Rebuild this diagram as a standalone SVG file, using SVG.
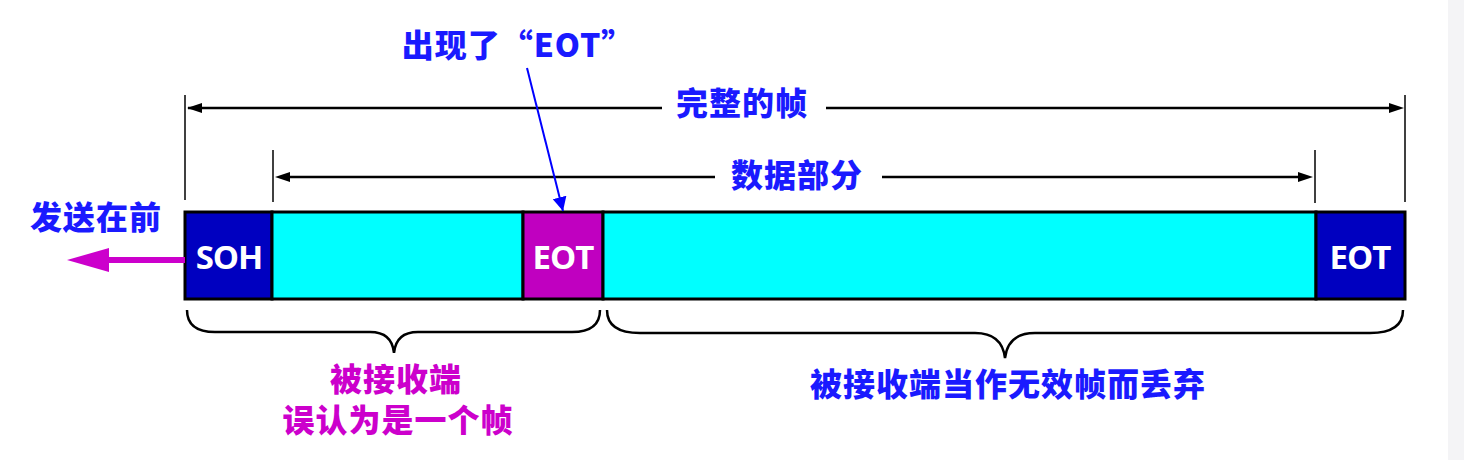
<svg xmlns="http://www.w3.org/2000/svg" width="1464" height="460" viewBox="0 0 1464 460">
<style>
.cjk{font-family:"Noto Sans CJK SC","Liberation Sans",sans-serif;font-weight:900;font-size:32px;letter-spacing:1px;text-anchor:middle}
.blue{fill:#1a1aff}
.mag{fill:#cc00cc}
.lbl{font-family:"Open Sans","Liberation Sans",sans-serif;font-weight:bold;font-size:33px;fill:#ffffff;text-anchor:middle;letter-spacing:-1px}
.dim{stroke:#000;stroke-width:2.5;fill:none}
.tick{stroke:#000;stroke-width:1.5;fill:none}
.box{stroke:#000;stroke-width:3}
</style>
<defs>
<marker id="ahb" viewBox="0 0 10 10" refX="10" refY="5" markerWidth="14" markerHeight="16" markerUnits="userSpaceOnUse" orient="auto">
<path d="M0,0 L10,5 L0,10 Z" fill="#0000ff"/>
</marker>
</defs>
<rect width="1464" height="460" fill="#fff"/>
<rect x="1448" y="0" width="16" height="460" fill="#f4f4f6"/>

<g id="frame">
<rect class="box" x="185" y="212" width="87" height="87" fill="#0000c0"/>
<rect class="box" x="272" y="212" width="251" height="87" fill="#00ffff"/>
<rect class="box" x="523" y="212" width="80" height="87" fill="#c000c0"/>
<rect class="box" x="603" y="212" width="713" height="87" fill="#00ffff"/>
<rect class="box" x="1316" y="212" width="89" height="87" fill="#0000c0"/>
</g>
<g id="soh"><text class="lbl" x="229" y="269">SOH</text></g>
<g id="eot1"><text class="lbl" x="563" y="269">EOT</text></g>
<g id="eot2"><text class="lbl" x="1360" y="269">EOT</text></g>

<g id="connectors">
<line class="tick" x1="185" y1="95" x2="185" y2="200"/>
<line class="tick" x1="1405" y1="95" x2="1405" y2="202"/>
<line class="tick" x1="273" y1="150" x2="273" y2="202"/>
<line class="tick" x1="1315" y1="150" x2="1315" y2="203"/>
<line x1="662" y1="108" x2="188" y2="108" stroke="#000" stroke-width="2.5"/>
<path d="M187,108 L202,103 L202,113 Z" fill="#000"/>
<line x1="826" y1="108" x2="1390" y2="108" stroke="#000" stroke-width="2.5"/>
<path d="M1404,108 L1389,103 L1389,113 Z" fill="#000"/>
<line x1="715" y1="177" x2="288" y2="177" stroke="#000" stroke-width="2.5"/>
<path d="M275,177 L290,172 L290,182 Z" fill="#000"/>
<line x1="882" y1="177" x2="1300" y2="177" stroke="#000" stroke-width="2.5"/>
<path d="M1313,177 L1298,172 L1298,182 Z" fill="#000"/>
<line x1="527" y1="68" x2="563" y2="211" stroke="#0000ff" stroke-width="2" marker-end="url(#ahb)"/>
<line x1="185" y1="260" x2="105" y2="260" stroke="#cc00cc" stroke-width="6"/>
<path d="M67,260 L109,248 L109,272 Z" fill="#cc00cc"/>
<path class="dim" d="M187,310 Q187,332 215,332 L370,332 Q392,332 394,353 Q396,332 418,332 L572,332 Q600,332 600,310"/>
<path class="dim" d="M607,310 Q607,333 640,333 L975,333 Q1002,333 1005,358 Q1008,333 1035,333 L1370,333 Q1403,333 1403,310"/>
</g>

<g id="title-full"><text class="cjk blue" x="742" y="115">完整的帧</text></g>
<g id="title-data"><text class="cjk blue" x="797" y="187">数据部分</text></g>
<g id="title-eot"><text class="cjk blue" x="518" y="57" letter-spacing="0">出现了“EOT”</text></g>
<g id="title-send"><text class="cjk blue" x="96" y="229">发送在前</text></g>
<g id="note-left">
<text class="cjk mag" x="396" y="391" font-size="30" letter-spacing="2">被接收端</text>
<text class="cjk mag" x="398" y="432" font-size="30" letter-spacing="2">误认为是一个帧</text>
</g>
<g id="note-right"><text class="cjk blue" x="1008" y="396" letter-spacing="2">被接收端当作无效帧而丢弃</text></g>
</svg>
